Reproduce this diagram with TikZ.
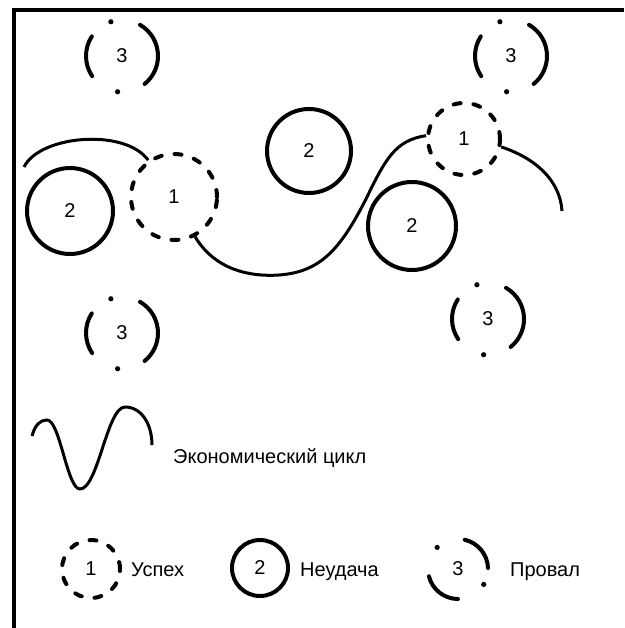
\documentclass[tikz,border=0pt]{standalone}
\usepackage{fontspec}
\setmainfont{Liberation Sans}
\usepackage{tikz}

\begin{document}
\begin{tikzpicture}[x=1pt,y=-1pt]
  \tikzset{every node/.style={font=\fontsize{20}{24}\selectfont, inner sep=0pt},
    uspeh/.style={circle, draw, line width=4pt, line cap=round, dash pattern=on 7pt off 13pt},
    neudacha/.style={circle, draw, line width=4pt},
    krivaya/.style={line width=3pt},
    dugi/.style={line width=4pt, line cap=round},
    pics/proval/.style={code={
      \draw[dugi] (60:36pt) arc[start angle=60, end angle=-51, radius=36pt];
      \draw[dugi] (147:36pt) arc[start angle=147, end angle=214, radius=36pt];
      \fill (108:36pt) circle[radius=2.6pt];
      \fill (-97:36pt) circle[radius=2.6pt];
    }}}
  \useasboundingbox (0,0) rectangle (624,628);
  \draw[line width=3.5pt] (14,628) -- (14,10) -- (624,10);

  \node[uspeh, minimum size=86pt] (s1) at (174,197) {1};
  \node[uspeh, minimum size=72pt] (s2) at (464,139) {1};
  \node[neudacha, minimum size=86pt] (n1) at (70,211) {2};
  \node[neudacha, minimum size=84pt] (n2) at (309,151) {2};
  \node[neudacha, minimum size=88pt] (n3) at (412,226) {2};
  \node (p1) at (122,56) {3};
  \node (p2) at (511,56) {3};
  \node (p3) at (122,333) {3};
  \node (p4) at (488,319) {3};
  \foreach \p in {p1,p2,p3,p4} \pic at (\p) {proval};

  \coordinate (k0) at (24,167);
  \coordinate (k1) at (562,211);
  \draw[krivaya] (k0) .. controls (40,135) and (125,128) .. (s1.125);
  \draw[krivaya] (s1.-62) .. controls (215,270) and (250,277) .. (279,275)
    .. controls (320,272) and (340,250) .. (366,199)
    .. controls (385,160) and (395,140) .. (s2.175);
  \draw[krivaya] (s2.-12) .. controls (535,158) and (560,180) .. (k1);

  \draw[krivaya] (32,436) .. controls (35,425) and (40,420) .. (47,420)
    .. controls (60,420) and (67,489) .. (80,489)
    .. controls (98,489) and (107,407) .. (125,407)
    .. controls (142,407) and (152,425) .. (152,445);
  \node[anchor=base west] (tcikl) at (173,463) {Экономический цикл};

  \node[uspeh, minimum size=58pt] (l1) at (91,569) {1};
  \node[anchor=base west] (tl1) at (131,576) {Успех};
  \node[neudacha, minimum size=56pt] (l2) at (260,568) {2};
  \node[anchor=base west] (tl2) at (300,576) {Неудача};
  \node (l3) at (458,569) {3};
  \draw[dugi] (l3) ++(77:30pt) arc[start angle=77, end angle=2, radius=30pt];
  \draw[dugi] (l3) ++(194:30pt) arc[start angle=194, end angle=270, radius=30pt];
  \fill (l3) ++(-31:30pt) circle[radius=2.6pt];
  \fill (l3) ++(134:30pt) circle[radius=2.6pt];
  \node[anchor=base west] (tl3) at (510,576) {Провал};
\end{tikzpicture}
\end{document}
